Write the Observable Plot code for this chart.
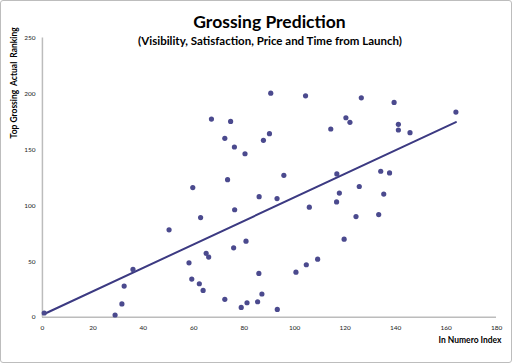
<!DOCTYPE html>
<html>
<head>
<meta charset="utf-8">
<script src="https://cdn.jsdelivr.net/npm/d3@7"></script>
<script src="https://cdn.jsdelivr.net/npm/@observablehq/plot@0.6"></script>
<style>
  html, body { margin: 0; padding: 0; background: #fff; }
  #wrap { position: relative; width: 512px; height: 363px; box-sizing: border-box; border: 1px solid #bdbdbd; border-radius: 3px; overflow: hidden; font-family: Lato, "Open Sans", sans-serif; }
  #title { position: absolute; left: 0; width: 537px; top: 10px; text-align: center; font-weight: bold; font-size: 17.5px; color: #000; }
  #subtitle { position: absolute; left: 0; width: 538px; top: 33px; text-align: center; font-weight: bold; font-size: 11.5px; color: #000; }
  #chart { position: absolute; left: -1px; top: -1px; }
</style>
</head>
<body>
<div id="wrap">
  <div id="chart"></div>
  <div id="title">Grossing Prediction</div>
  <div id="subtitle">(Visibility, Satisfaction, Price and Time from Launch)</div>
</div>
<script>
const indexValues = [0.7, 28.8, 31.5, 32.4, 35.9, 50.2, 90.5, 67.0, 74.6, 72.3, 76.1, 80.3, 90.0, 87.6, 95.7, 73.4, 59.6, 85.9, 93.0, 76.2, 62.7, 80.7, 75.8, 64.9, 65.9, 58.1, 85.8, 100.5, 59.2, 62.2, 63.7, 72.3, 87.0, 85.3, 81.1, 78.8, 93.1, 104.3, 126.4, 139.4, 163.9, 120.3, 121.9, 114.3, 141.1, 141.1, 145.7, 116.7, 134.1, 137.6, 125.6, 117.7, 135.3, 116.6, 105.8, 124.3, 133.3, 119.6, 109.1, 104.6];
const rankingValues = [3.9, 2.1, 12, 28, 42.9, 78.3, 200.6, 177.4, 175.3, 160.2, 152.4, 146.4, 164.3, 158.4, 127.1, 123.2, 116.1, 108.0, 106.3, 96.3, 89.3, 68.2, 62.2, 57.2, 53.9, 48.8, 39.3, 40.4, 34.3, 30.1, 24.1, 16.1, 20.9, 14.0, 13.1, 8.9, 7.1, 198.2, 196.4, 192.3, 183.7, 178.6, 174.5, 168.5, 172.7, 167.6, 165.2, 128.3, 130.7, 129.2, 117.1, 111.2, 110.3, 103.3, 98.6, 90.2, 92.0, 70.0, 52.1, 47.1];
const trendX = [0.7, 163.9];
const trendY = [3.0, 174.7];
const xTicks = [0, 20, 40, 60, 80, 100, 120, 140, 160, 180];
const yTicks = [0, 50, 100, 150, 200, 250];

const points = indexValues.map((x, i) => ({x, y: rankingValues[i]}));
const trend = trendX.map((x, i) => ({x, y: trendY[i]}));

const chart = Plot.plot({
  width: 512,
  height: 363,
  marginLeft: 42,
  marginRight: 15,
  marginTop: 37.5,
  marginBottom: 45.5,
  style: { fontFamily: "Lato, 'Open Sans', sans-serif", background: "transparent", overflow: "visible" },
  x: { domain: [0, 180] },
  y: { domain: [0, 250] },
  marks: [
    Plot.axisX({ ticks: xTicks, tickSize: 0, tickPadding: 8, fontSize: 6.5, label: null, color: "#222" }),
    Plot.axisY({ ticks: yTicks, tickSize: 0, tickPadding: 7, fontSize: 6.5, label: null, color: "#222" }),
    Plot.ruleY([0], { stroke: "#bcbcbc", strokeWidth: 1.5 }),
    Plot.ruleX([0], { stroke: "#bcbcbc", strokeWidth: 1.5 }),
    Plot.line(trend, { x: "x", y: "y", stroke: "#3c3a82", strokeWidth: 2 }),
    Plot.dot(points, { x: "x", y: "y", r: 2.6, fill: "#4b4a8e", stroke: "none" }),
    Plot.text(["In Numero Index"], { frameAnchor: "bottom-right", dx: 5, dy: 26, fontSize: 8.5, fontWeight: "bold", fill: "#000", textAnchor: "end" }),
    Plot.text(["Top Grossing  Actual  Ranking"], { frameAnchor: "top-left", dx: -28, dy: 45, rotate: -90, fontSize: 8.5, fontWeight: "bold", fill: "#000", textAnchor: "middle", lineAnchor: "middle" })
  ]
});
document.getElementById("chart").appendChild(chart);
</script>
</body>
</html>
